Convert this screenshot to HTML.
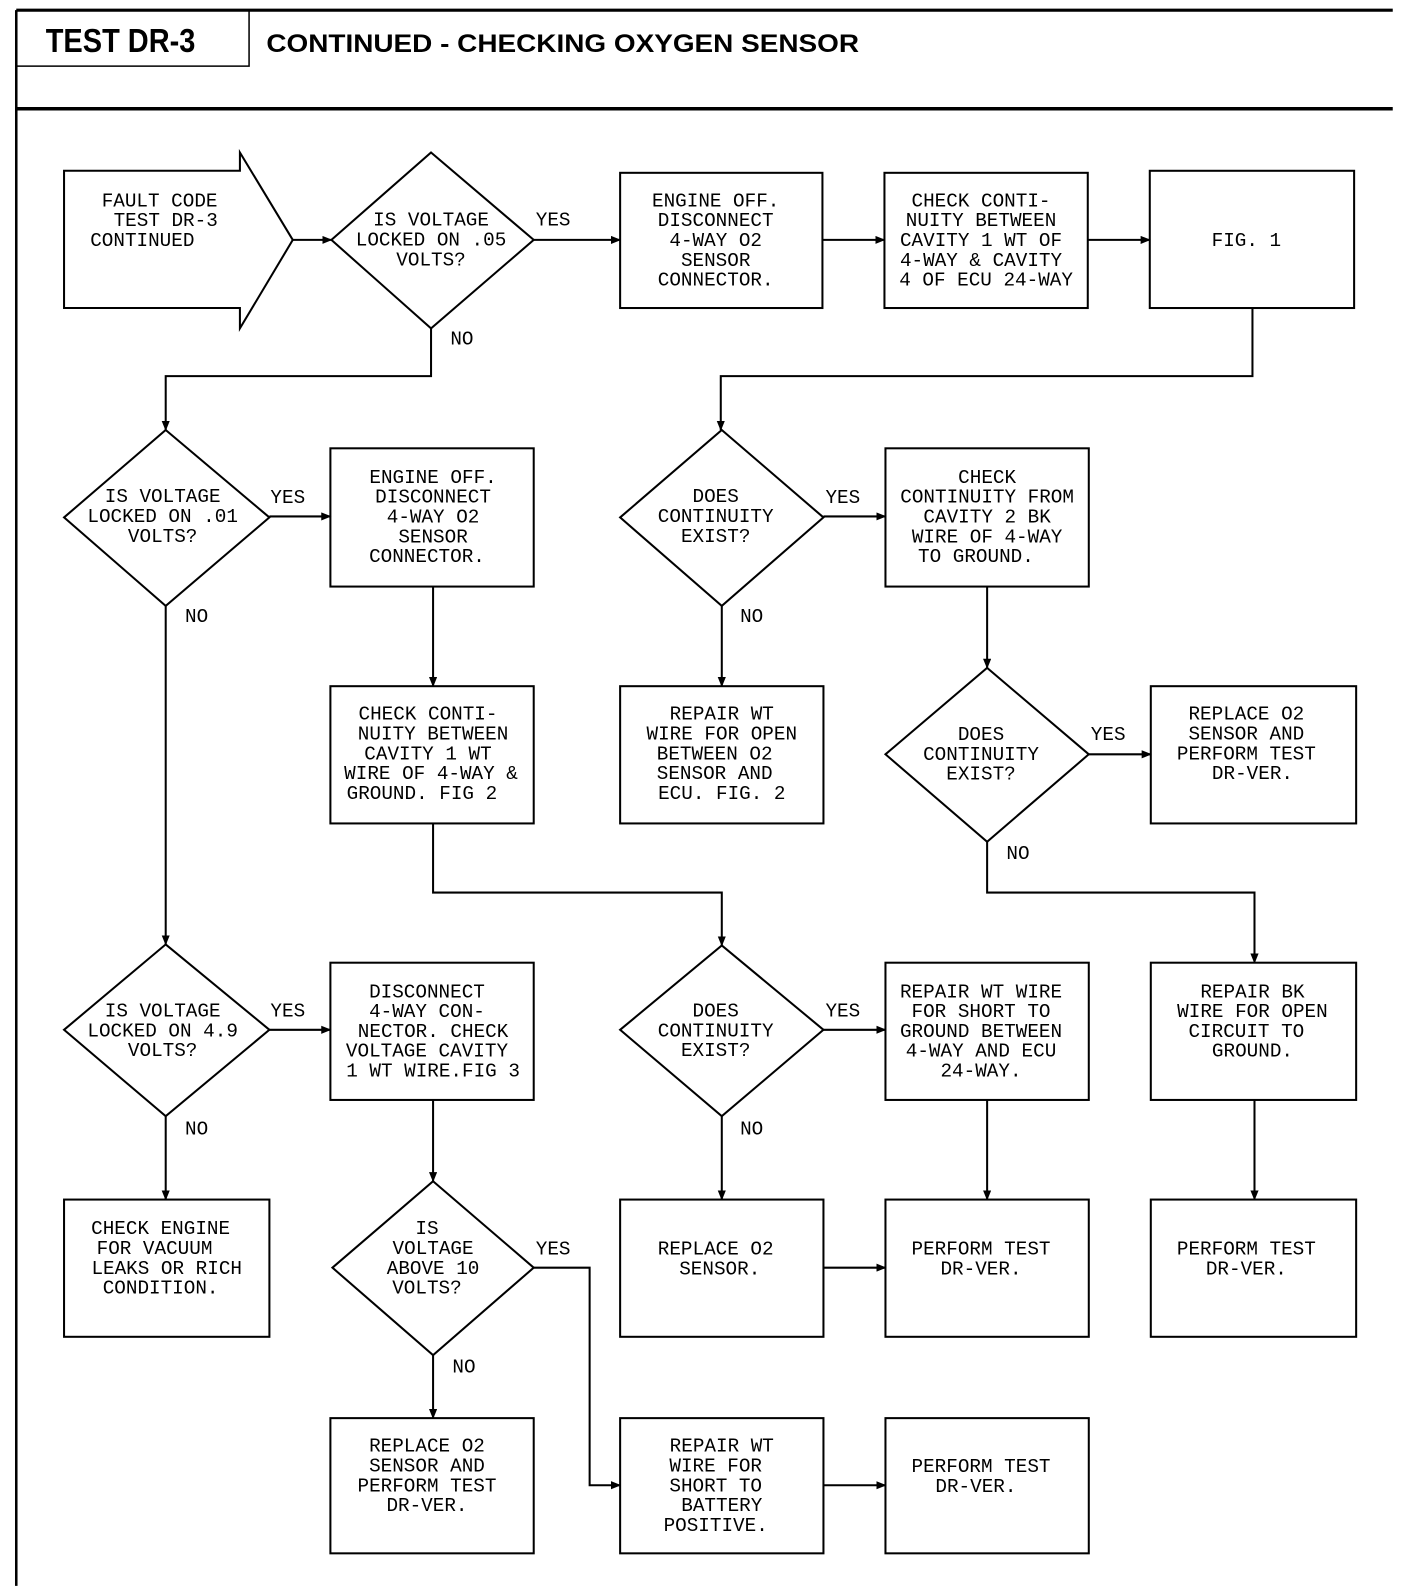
<!DOCTYPE html>
<html><head><meta charset="utf-8"><style>
html,body{margin:0;padding:0;background:#fff;}
svg{display:block;}
.t{font-family:"Liberation Mono",monospace;font-size:19px;text-anchor:middle;fill:#000;}
.l{font-family:"Liberation Mono",monospace;font-size:19px;fill:#000;}
.h{font-family:"Liberation Sans",sans-serif;font-weight:bold;fill:#000;}
</style></head><body>
<svg width="1408" height="1594" viewBox="0 0 1385 1568" preserveAspectRatio="none" xmlns="http://www.w3.org/2000/svg">
<defs><marker id="a" markerWidth="10" markerHeight="8" refX="9" refY="4" orient="auto" markerUnits="userSpaceOnUse"><path d="M0,0 L10,4 L0,8 Z" fill="#000"/></marker></defs>
<g stroke="#000" fill="none">
<line x1="16" y1="10" x2="1370" y2="10" stroke-width="3"/>
<line x1="16" y1="10" x2="16" y2="1560" stroke-width="2.5"/>
<line x1="16" y1="107" x2="1370" y2="107" stroke-width="3.5"/>
<polyline points="16,65 245,65 245,10" stroke-width="1.5"/>
</g>
<text class="h" x="45" y="51" font-size="30" transform="translate(45,51) scale(0.95,1.1) translate(-45,-51)">TEST DR-3</text>
<text class="h" x="262" y="51" font-size="25" textLength="583" lengthAdjust="spacingAndGlyphs">CONTINUED - CHECKING OXYGEN SENSOR</text>

<g stroke="#000" stroke-width="2" fill="#fff">
<polygon points="63,168 236,168 236,150 288,236 236,323 236,303 63,303"/>
<polygon points="424,150 525,236 424,323 326,236"/>
<rect x="610" y="170" width="199" height="133"/>
<rect x="870" y="170" width="200" height="133"/>
<rect x="1131" y="168" width="201" height="135"/>

<polygon points="163,423 265,509 163,596 63,509"/>
<rect x="325" y="441" width="200" height="136"/>
<polygon points="710,423 810,509 710,596 610,509"/>
<rect x="871" y="441" width="200" height="136"/>
<rect x="325" y="675" width="200" height="135"/>
<rect x="610" y="675" width="200" height="135"/>
<polygon points="971,657 1071,742 971,828 871,742"/>
<rect x="1132" y="675" width="202" height="135"/>

<polygon points="163,929 265,1013 163,1098 63,1013"/>
<rect x="325" y="947" width="200" height="135"/>
<polygon points="710,930 810,1013 710,1098 610,1013"/>
<rect x="871" y="947" width="200" height="135"/>
<rect x="1132" y="947" width="202" height="135"/>

<rect x="63" y="1180" width="202" height="135"/>
<polygon points="426,1162 525,1247 426,1333 327,1247"/>
<rect x="610" y="1180" width="200" height="135"/>
<rect x="871" y="1180" width="200" height="135"/>
<rect x="1132" y="1180" width="202" height="135"/>

<rect x="325" y="1395" width="200" height="133"/>
<rect x="610" y="1395" width="200" height="133"/>
<rect x="871" y="1395" width="200" height="133"/>
</g>

<g stroke="#000" stroke-width="2" fill="none" marker-end="url(#a)">
<line x1="288" y1="236" x2="326" y2="236"/>
<line x1="525" y1="236" x2="610" y2="236"/>
<line x1="809" y1="236" x2="870" y2="236"/>
<line x1="1070" y1="236" x2="1131" y2="236"/>
<polyline points="424,323 424,370 163,370 163,423"/>
<polyline points="1232,303 1232,370 709,370 709,423"/>
<line x1="265" y1="508" x2="325" y2="508"/>
<line x1="810" y1="508" x2="871" y2="508"/>
<line x1="426" y1="577" x2="426" y2="675"/>
<line x1="710" y1="596" x2="710" y2="675"/>
<line x1="971" y1="577" x2="971" y2="657"/>
<line x1="1071" y1="742" x2="1132" y2="742"/>
<polyline points="971,828 971,878 1234,878 1234,947"/>
<polyline points="426,810 426,878 710,878 710,930"/>
<line x1="163" y1="596" x2="163" y2="929"/>
<line x1="265" y1="1013" x2="325" y2="1013"/>
<line x1="810" y1="1013" x2="871" y2="1013"/>
<line x1="163" y1="1098" x2="163" y2="1180"/>
<line x1="426" y1="1082" x2="426" y2="1162"/>
<line x1="710" y1="1098" x2="710" y2="1180"/>
<line x1="971" y1="1082" x2="971" y2="1180"/>
<line x1="1234" y1="1082" x2="1234" y2="1180"/>
<line x1="810" y1="1247" x2="871" y2="1247"/>
<polyline points="525,1247 580,1247 580,1461 610,1461"/>
<line x1="426" y1="1333" x2="426" y2="1395"/>
<line x1="810" y1="1461" x2="871" y2="1461"/>
</g>

<g class="l">
<text x="527" y="222">YES</text><text x="443" y="339">NO</text>
<text x="266" y="495">YES</text><text x="182" y="612">NO</text>
<text x="812" y="495">YES</text><text x="728" y="612">NO</text>
<text x="1073" y="728">YES</text><text x="990" y="845">NO</text>
<text x="266" y="1000">YES</text><text x="182" y="1116">NO</text>
<text x="812" y="1000">YES</text><text x="728" y="1116">NO</text>
<text x="527" y="1234">YES</text><text x="445" y="1350">NO</text>
</g>

<g class="t">
<text y="203"><tspan x="157">FAULT CODE</tspan><tspan x="163" dy="19.5">TEST DR-3</tspan><tspan x="140" dy="19.5">CONTINUED</tspan></text>
<text y="222"><tspan x="424">IS VOLTAGE</tspan><tspan x="424" dy="19.5">LOCKED ON .05</tspan><tspan x="424" dy="19.5">VOLTS?</tspan></text>
<text y="203"><tspan x="704">ENGINE OFF.</tspan><tspan x="704" dy="19.5">DISCONNECT</tspan><tspan x="704" dy="19.5">4-WAY O2</tspan><tspan x="704" dy="19.5">SENSOR</tspan><tspan x="704" dy="19.5">CONNECTOR.</tspan></text>
<text y="203"><tspan x="965">CHECK CONTI-</tspan><tspan x="965" dy="19.5">NUITY BETWEEN</tspan><tspan x="965" dy="19.5">CAVITY 1 WT OF</tspan><tspan x="965" dy="19.5">4-WAY &amp; CAVITY</tspan><tspan x="970" dy="19.5">4 OF ECU 24-WAY</tspan></text>
<text x="1226" y="242">FIG. 1</text>

<text y="494"><tspan x="160">IS VOLTAGE</tspan><tspan x="160" dy="19.5">LOCKED ON .01</tspan><tspan x="160" dy="19.5">VOLTS?</tspan></text>
<text y="475"><tspan x="426">ENGINE OFF.</tspan><tspan x="426" dy="19.5">DISCONNECT</tspan><tspan x="426" dy="19.5">4-WAY O2</tspan><tspan x="426" dy="19.5">SENSOR</tspan><tspan x="420" dy="19.5">CONNECTOR.</tspan></text>
<text y="494"><tspan x="704">DOES</tspan><tspan x="704" dy="19.5">CONTINUITY</tspan><tspan x="704" dy="19.5">EXIST?</tspan></text>
<text y="475"><tspan x="971">CHECK</tspan><tspan x="971" dy="19.5">CONTINUITY FROM</tspan><tspan x="971" dy="19.5">CAVITY 2 BK</tspan><tspan x="971" dy="19.5">WIRE OF 4-WAY</tspan><tspan x="960" dy="19.5">TO GROUND.</tspan></text>
<text y="708"><tspan x="421">CHECK CONTI-</tspan><tspan x="426" dy="19.5">NUITY BETWEEN</tspan><tspan x="421" dy="19.5">CAVITY 1 WT</tspan><tspan x="424" dy="19.5">WIRE OF 4-WAY &amp;</tspan><tspan x="415" dy="19.5">GROUND. FIG 2</tspan></text>
<text y="708"><tspan x="710">REPAIR WT</tspan><tspan x="710" dy="19.5">WIRE FOR OPEN</tspan><tspan x="703" dy="19.5">BETWEEN O2</tspan><tspan x="703" dy="19.5">SENSOR AND</tspan><tspan x="710" dy="19.5">ECU. FIG. 2</tspan></text>
<text y="728"><tspan x="965">DOES</tspan><tspan x="965" dy="19.5">CONTINUITY</tspan><tspan x="965" dy="19.5">EXIST?</tspan></text>
<text y="708"><tspan x="1226">REPLACE O2</tspan><tspan x="1226" dy="19.5">SENSOR AND</tspan><tspan x="1226" dy="19.5">PERFORM TEST</tspan><tspan x="1232" dy="19.5">DR-VER.</tspan></text>

<text y="1000"><tspan x="160">IS VOLTAGE</tspan><tspan x="160" dy="19.5">LOCKED ON 4.9</tspan><tspan x="160" dy="19.5">VOLTS?</tspan></text>
<text y="981"><tspan x="420">DISCONNECT</tspan><tspan x="420" dy="19.5">4-WAY CON-</tspan><tspan x="426" dy="19.5">NECTOR. CHECK</tspan><tspan x="420" dy="19.5">VOLTAGE CAVITY</tspan><tspan x="426" dy="19.5">1 WT WIRE.FIG 3</tspan></text>
<text y="1000"><tspan x="704">DOES</tspan><tspan x="704" dy="19.5">CONTINUITY</tspan><tspan x="704" dy="19.5">EXIST?</tspan></text>
<text y="981"><tspan x="965">REPAIR WT WIRE</tspan><tspan x="965" dy="19.5">FOR SHORT TO</tspan><tspan x="965" dy="19.5">GROUND BETWEEN</tspan><tspan x="965" dy="19.5">4-WAY AND ECU</tspan><tspan x="965" dy="19.5">24-WAY.</tspan></text>
<text y="981"><tspan x="1232">REPAIR BK</tspan><tspan x="1232" dy="19.5">WIRE FOR OPEN</tspan><tspan x="1226" dy="19.5">CIRCUIT TO</tspan><tspan x="1232" dy="19.5">GROUND.</tspan></text>

<text y="1214"><tspan x="158">CHECK ENGINE</tspan><tspan x="152" dy="19.5">FOR VACUUM</tspan><tspan x="164" dy="19.5">LEAKS OR RICH</tspan><tspan x="158" dy="19.5">CONDITION.</tspan></text>
<text y="1214"><tspan x="420">IS</tspan><tspan x="426" dy="19.5">VOLTAGE</tspan><tspan x="426" dy="19.5">ABOVE 10</tspan><tspan x="420" dy="19.5">VOLTS?</tspan></text>
<text y="1234"><tspan x="704">REPLACE O2</tspan><tspan x="708" dy="19.5">SENSOR.</tspan></text>
<text y="1234"><tspan x="965">PERFORM TEST</tspan><tspan x="965" dy="19.5">DR-VER.</tspan></text>
<text y="1234"><tspan x="1226">PERFORM TEST</tspan><tspan x="1226" dy="19.5">DR-VER.</tspan></text>

<text y="1428"><tspan x="420">REPLACE O2</tspan><tspan x="420" dy="19.5">SENSOR AND</tspan><tspan x="420" dy="19.5">PERFORM TEST</tspan><tspan x="420" dy="19.5">DR-VER.</tspan></text>
<text y="1428"><tspan x="710">REPAIR WT</tspan><tspan x="704" dy="19.5">WIRE FOR</tspan><tspan x="704" dy="19.5">SHORT TO</tspan><tspan x="710" dy="19.5">BATTERY</tspan><tspan x="704" dy="19.5">POSITIVE.</tspan></text>
<text y="1448"><tspan x="965">PERFORM TEST</tspan><tspan x="960" dy="19.5">DR-VER.</tspan></text>
</g>
</svg>
</body></html>
